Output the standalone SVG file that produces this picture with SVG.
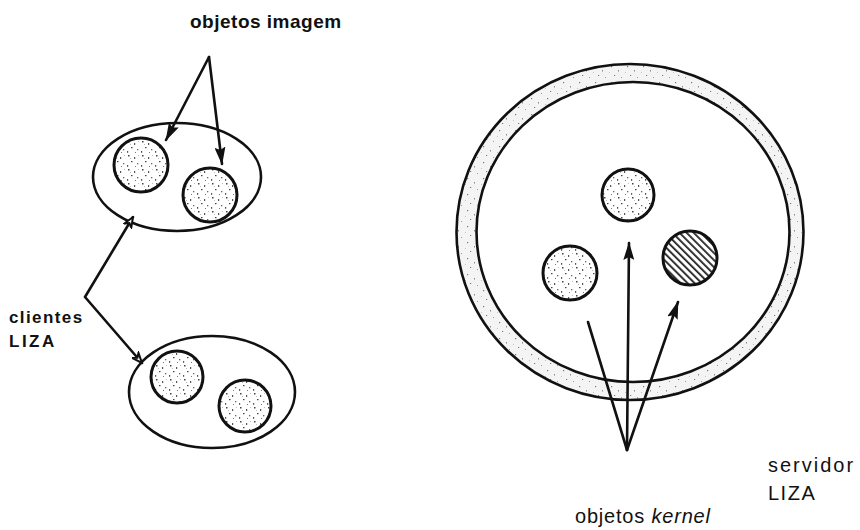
<svg xmlns="http://www.w3.org/2000/svg" width="860" height="530" viewBox="0 0 860 530">
<style>
.ln{fill:none;stroke:#111;stroke-width:2.6;stroke-linecap:round;stroke-linejoin:round}
.obj{fill:url(#speck);stroke:#111;stroke-width:3}
.cli{fill:#fff;stroke:#111;stroke-width:2.6}
.lbl{font-family:"Liberation Sans",Arial,sans-serif;fill:#111}
.b{font-weight:bold}
</style>
<defs>
<pattern id="speck" width="14" height="14" patternUnits="userSpaceOnUse">
<rect width="14" height="14" fill="#fff"/>
<rect x="2" y="1" width="1.5" height="1.5" fill="#444"/>
<rect x="8" y="3" width="1.2" height="2" fill="#555"/>
<rect x="5" y="7" width="1.5" height="1.2" fill="#444"/>
<rect x="11" y="9" width="1.3" height="1.3" fill="#666"/>
<rect x="1" y="11" width="1.2" height="1.8" fill="#555"/>
<rect x="9" y="12" width="1" height="1" fill="#777"/>
<rect x="4" y="4" width="0.8" height="0.8" fill="#999"/>
<rect x="12" y="1" width="0.8" height="0.8" fill="#999"/>
</pattern>
<pattern id="ringspeck" width="16" height="16" patternUnits="userSpaceOnUse">
<rect width="16" height="16" fill="#f4f4f4"/>
<rect x="3" y="2" width="1.2" height="1.2" fill="#777"/>
<rect x="10" y="6" width="1" height="1.5" fill="#888"/>
<rect x="6" y="11" width="1.2" height="1" fill="#777"/>
<rect x="13" y="13" width="1" height="1" fill="#999"/>
<rect x="1" y="8" width="0.8" height="0.8" fill="#aaa"/>
</pattern>
<pattern id="hatch" width="5" height="5" patternUnits="userSpaceOnUse" patternTransform="rotate(-45)">
<rect width="5" height="5" fill="#fff"/>
<rect x="0" y="0" width="1.8" height="5" fill="#222"/>
</pattern>
<marker id="ahf" markerUnits="userSpaceOnUse" markerWidth="18" markerHeight="11" refX="17" refY="5.5" orient="auto">
<path d="M0,0 L18,5.5 L0,11 L3,5.5 z" fill="#111"/>
</marker>
<marker id="aho" markerUnits="userSpaceOnUse" markerWidth="12" markerHeight="10" refX="11" refY="5" orient="auto-start-reverse">
<path d="M1,1 L11,5 L1,9 L4,5 z" fill="#fff" stroke="#111" stroke-width="2"/>
</marker>
</defs>

<g id="server">
<ellipse cx="630" cy="232" rx="173.5" ry="168" fill="url(#ringspeck)" stroke="#111" stroke-width="2.6"/>
<ellipse cx="633" cy="232" rx="156.5" ry="150" fill="#fff" stroke="#111" stroke-width="2.6"/>
</g>
<g id="kernel-obj-1"><circle cx="628" cy="195" r="26" class="obj"/></g>
<g id="kernel-obj-2"><circle cx="570" cy="273" r="27" class="obj"/></g>
<g id="kernel-obj-3"><circle cx="690" cy="258" r="27" fill="url(#hatch)" stroke="#111" stroke-width="3"/></g>

<g id="client-1">
<ellipse cx="177" cy="177" rx="84" ry="54" class="cli"/>
</g>
<g id="image-obj-1"><circle cx="141" cy="165" r="27" class="obj"/></g>
<g id="image-obj-2"><circle cx="210" cy="195" r="27" class="obj"/></g>

<g id="client-2">
<ellipse cx="212" cy="392" rx="83" ry="56" class="cli"/>
</g>
<g id="image-obj-3"><circle cx="177" cy="377" r="26" class="obj"/></g>
<g id="image-obj-4"><circle cx="245" cy="406" r="26" class="obj"/></g>

<g id="connectors">
<path class="ln" d="M209,57 L166,140" marker-end="url(#ahf)"/>
<path class="ln" d="M209,57 L222,164" marker-end="url(#ahf)"/>
<path class="ln" d="M133,217 L85,297 L142,363" marker-start="url(#aho)" marker-end="url(#aho)"/>
<path class="ln" d="M627,450 L629,243" marker-end="url(#ahf)"/>
<path class="ln" d="M627,450 L678,302" marker-end="url(#ahf)"/>
<path class="ln" d="M627,450 L588,322"/>
</g>

<g id="labels">
<text class="lbl b" x="190" y="28" font-size="19" letter-spacing="0.5">objetos imagem</text>
<text class="lbl b" x="9" y="323" font-size="17" letter-spacing="1.4">clientes</text>
<text class="lbl b" x="9" y="347" font-size="17" letter-spacing="2.5">LIZA</text>
<text class="lbl" x="768" y="472" font-size="20" letter-spacing="2">servidor</text>
<text class="lbl" x="768" y="500" font-size="20" letter-spacing="1.5">LIZA</text>
<text class="lbl" x="575" y="523" font-size="20" letter-spacing="0.8">objetos <tspan font-style="italic">kernel</tspan></text>
</g>
</svg>
